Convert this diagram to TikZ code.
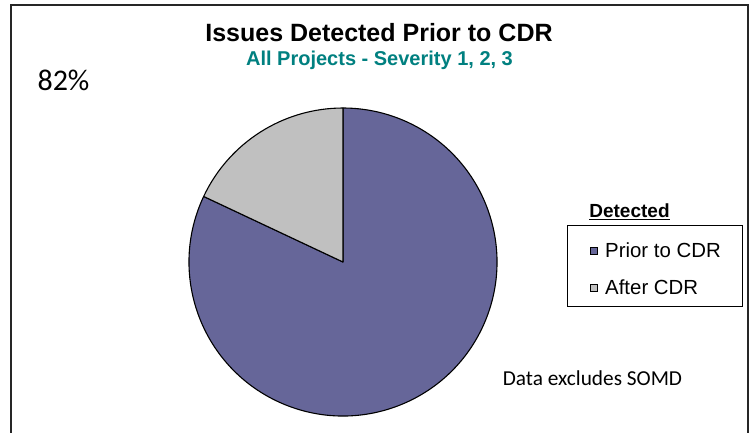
\documentclass[tikz,border=0pt]{standalone}
\usepackage{fontspec}
\setmainfont{Liberation Sans}
\newfontfamily\calib{Carlito}
\definecolor{piepurple}{RGB}{102,102,153}
\definecolor{piegray}{RGB}{192,192,192}
\definecolor{subteal}{RGB}{0,128,128}
\tikzset{
  slice/.style={draw=black, line width=1.1pt, line join=round},
  legsq/.style={draw=black, line width=0.8pt, minimum size=7pt, inner sep=0pt},
  legtxt/.style={anchor=west, inner sep=0pt, font=\fontsize{20.4}{24}\selectfont},
}
\begin{document}
\begin{tikzpicture}[x=1pt,y=-1pt]
\useasboundingbox (0,0) rectangle (752,432);
\fill[white] (0,0) rectangle (752,432);
% outer frame
\draw[line width=1.4pt, black!85] (11,433) -- (11,5) -- (748,5) -- (748,433);
% titles
\node[font=\bfseries\fontsize{25}{28}\selectfont, inner sep=0pt] (title) at (379,33) {Issues Detected Prior to CDR};
\node[font=\bfseries\fontsize{20}{22}\selectfont, text=subteal, inner sep=0pt] (subtitle) at (379.5,60) {All Projects - Severity 1, 2, 3};
\node[font=\calib\fontsize{30}{34}\selectfont, inner sep=0pt] (pct) at (63.5,80) {82\%};
% pie
\coordinate (C) at (343,262);
\filldraw[slice, fill=piepurple] (C) -- ++(154.8:154pt) arc[start angle=154.8, end angle=450, radius=154pt] -- cycle;
\filldraw[slice, fill=piegray] (C) -- ++(90:154pt) arc[start angle=90, end angle=154.8, radius=154pt] -- cycle;
% legend
\node[font=\bfseries\fontsize{19}{22}\selectfont, inner sep=0pt] (legtitle) at (629.5,212) {\underline{Detected}};
\node[draw=black, line width=1pt, minimum width=175pt, minimum height=81pt, inner sep=0pt] (legbox) at (654.5,265.5) {};
\node[legsq, fill=piepurple] (sq1) at (593.5,250.5) {};
\node[legtxt] (l1) at (605,250.5) {Prior to CDR};
\node[legsq, fill=piegray] (sq2) at (593.5,287.5) {};
\node[legtxt] (l2) at (605,287.5) {After CDR};
% note
\node[font=\calib\fontsize{21.3}{24}\selectfont, inner sep=0pt] (note) at (592.5,378) {Data excludes SOMD};
\end{tikzpicture}
\end{document}
